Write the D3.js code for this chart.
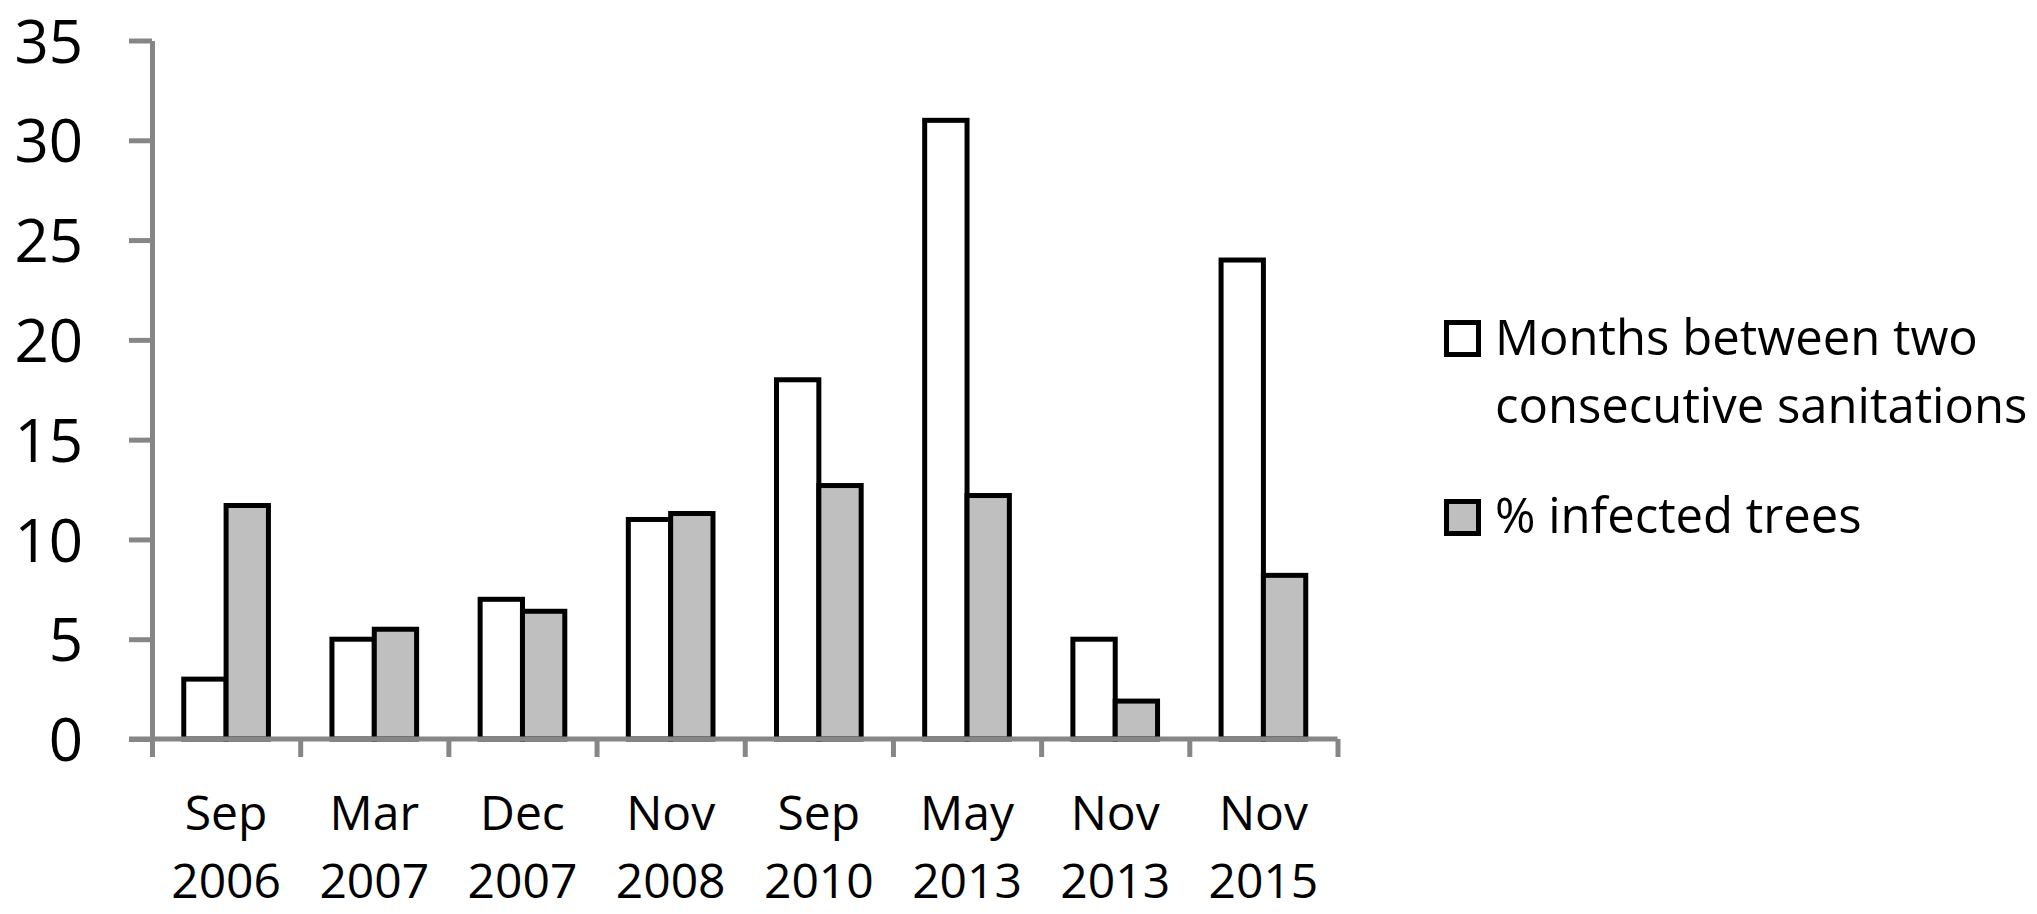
<!DOCTYPE html>
<html>
<head>
<meta charset="utf-8">
<script src="https://cdn.jsdelivr.net/npm/d3@7"></script>
<style>
  body { margin: 0; background: #fff; }
  text { font-family: "Open Sans", "Noto Sans", sans-serif; fill: #000; }
</style>
</head>
<body>
<div id="chart"></div>
<script>
const WIDTH = 2037;
const HEIGHT = 914;

// data
const categories = [
  ["Sep", "2006"], ["Mar", "2007"], ["Dec", "2007"], ["Nov", "2008"],
  ["Sep", "2010"], ["May", "2013"], ["Nov", "2013"], ["Nov", "2015"]
];
const months = [3, 5, 7, 11, 18, 31, 5, 24];
const infected = [11.7, 5.5, 6.4, 11.3, 12.7, 12.2, 1.9, 8.2];
const seriesNames = [["Months between two", "consecutive sanitations"], ["% infected trees"]];
const seriesFill = ["#ffffff", "#bfbfbf"];
const yTicks = [0, 5, 10, 15, 20, 25, 30, 35];

const PLOT = { left: 152, right: 1337.5, top: 40.5, bottom: 739 };
const AXIS_GREY = "#868686";

const svg = d3.select("#chart").append("svg")
  .attr("width", WIDTH)
  .attr("height", HEIGHT)
  .style("background-color", "#fff");

const keys = categories.map(d => d.join(" "));
const rows = keys.map((k, i) => ({ key: k, values: [months[i], infected[i]] }));

const x0 = d3.scaleBand()
  .domain(keys)
  .range([PLOT.left, PLOT.right])
  .paddingInner(0.4286)
  .paddingOuter(0.2143);

const x1 = d3.scaleBand()
  .domain([0, 1])
  .range([0, x0.bandwidth()]);

const y = d3.scaleLinear()
  .domain([0, 35])
  .range([PLOT.bottom, PLOT.top]);

// bars
const groups = svg.append("g")
  .selectAll("g")
  .data(rows)
  .join("g")
    .attr("transform", d => `translate(${x0(d.key)},0)`);

groups.selectAll("rect")
  .data(d => d.values.map((v, i) => ({ v, i })))
  .join("rect")
    .attr("x", d => x1(d.i))
    .attr("y", d => y(d.v))
    .attr("width", x1.bandwidth())
    .attr("height", d => y(0) - y(d.v))
    .attr("fill", d => seriesFill[d.i])
    .attr("stroke", "#000")
    .attr("stroke-width", 5);

// y axis
const yAxis = svg.append("g")
  .attr("transform", `translate(${PLOT.left},0)`)
  .call(d3.axisLeft(y).tickValues(yTicks).tickSize(23).tickSizeOuter(0).tickPadding(46));
yAxis.select(".domain").attr("stroke", AXIS_GREY).attr("stroke-width", 5);
yAxis.selectAll(".tick line").attr("stroke", AXIS_GREY).attr("stroke-width", 5);
yAxis.selectAll(".tick text")
  .attr("font-size", 60)
  .attr("font-family", "'Open Sans', sans-serif")
  .attr("fill", "#000")
  .attr("dy", "0.36em");

// x axis: ticks on category boundaries
const xEdges = d3.scaleLinear().domain([0, keys.length]).range([PLOT.left, PLOT.right]);
const xAxis = svg.append("g")
  .attr("transform", `translate(0,${PLOT.bottom})`)
  .call(d3.axisBottom(xEdges).ticks(keys.length).tickSize(18).tickSizeOuter(0).tickFormat(""));
xAxis.select(".domain").attr("stroke", AXIS_GREY).attr("stroke-width", 5)
  .attr("d", `M${PLOT.left - 23},0H${PLOT.right}`);
xAxis.selectAll(".tick line").attr("stroke", AXIS_GREY).attr("stroke-width", 5);

// category labels, two lines each
const labels = svg.append("g")
  .selectAll("text")
  .data(categories)
  .join("text")
    .attr("text-anchor", "middle")
    .attr("font-size", 48)
    .attr("x", (d, i) => x0(keys[i]) + x0.bandwidth() / 2);

labels.selectAll("tspan")
  .data(d => d)
  .join("tspan")
    .attr("x", function () { return d3.select(this.parentNode).attr("x"); })
    .attr("y", (d, i) => 830 + i * 68)
    .text(d => d);

// legend
const legend = svg.append("g");
const legendTop = [322.5, 501.5];

legend.selectAll("rect")
  .data(seriesNames)
  .join("rect")
    .attr("x", 1446.5)
    .attr("y", (d, i) => legendTop[i])
    .attr("width", 32)
    .attr("height", 32)
    .attr("fill", (d, i) => seriesFill[i])
    .attr("stroke", "#000")
    .attr("stroke-width", 5);

const legendText = legend.selectAll("text")
  .data(seriesNames)
  .join("text")
    .attr("font-size", 49);

legendText.selectAll("tspan")
  .data((d, i) => d.map((line, j) => ({ line, i, j })))
  .join("tspan")
    .attr("x", 1495)
    .attr("y", d => (d.i === 0 ? 355 : 533) + d.j * 68)
    .text(d => d.line);
</script>
</body>
</html>
